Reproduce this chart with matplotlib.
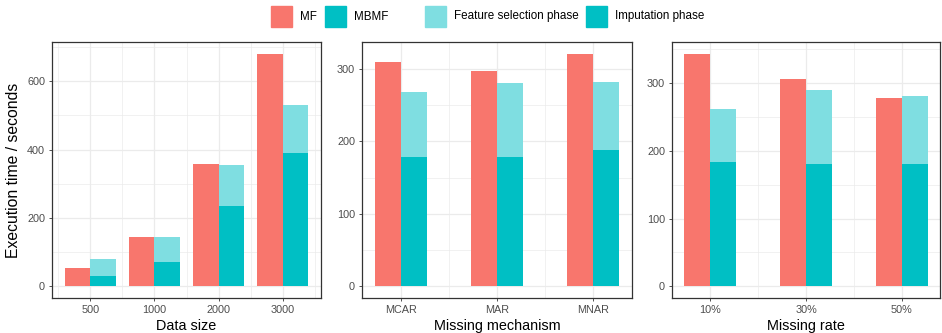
import matplotlib
matplotlib.use('Agg')
import matplotlib.pyplot as plt
from matplotlib.patches import Rectangle
import numpy as np

plt.rcParams['font.family'] = ['Liberation Sans', 'DejaVu Sans']

# Panel 1: data size
size_labels = ['500', '1000', '2000', '3000']
size_mf = [54, 145, 357, 681]
size_imput = [31, 72, 236, 389]
size_fs = [50, 73, 118, 143]

# Panel 2: missing mechanism
mech_labels = ['MCAR', 'MAR', 'MNAR']
mech_mf = [310, 297, 321]
mech_imput = [179, 179, 188]
mech_fs = [89, 102, 94]

# Panel 3: missing rate
rate_labels = ['10%', '30%', '50%']
rate_mf = [343, 305, 278]
rate_imput = [184, 180, 181]
rate_fs = [77, 110, 100]

MF_COLOR = '#F8766D'
TEAL = '#00BFC4'
LIGHT_TEAL = '#7FDEE1'
GRID = '#EBEBEB'
DARK = '#333333'


def draw_panel(ax, labels, mf, imput, fs, major, minor, xlabel, xpad, bw):
    n = len(labels)
    x = np.arange(1, n + 1)
    top = max(max(mf), max(a + b for a, b in zip(imput, fs)))

    ax.bar(x - bw / 2, mf, width=bw, color=MF_COLOR, zorder=3)
    ax.bar(x + bw / 2, imput, width=bw, color=TEAL, zorder=3)
    ax.bar(x + bw / 2, fs, width=bw, bottom=imput, color=LIGHT_TEAL, zorder=3)

    lo, hi = 1 - xpad, n + xpad
    ax.set_xticks(x)
    ax.set_xticklabels(labels)
    ax.set_yticks(major)
    mids = [m for m in np.arange(0.5, n + 1, 1.0) if lo < m < hi]
    ax.set_xticks(mids, minor=True)
    ax.set_yticks(minor, minor=True)
    # limits after ticks so set_ticks cannot widen the view
    ax.set_xlim(lo, hi)
    ax.set_ylim(-0.05 * top, 1.05 * top)

    ax.grid(which='major', color=GRID, linewidth=0.9, zorder=0)
    ax.grid(which='minor', color=GRID, linewidth=0.5, zorder=0)
    ax.set_axisbelow(True)

    ax.tick_params(which='major', length=2.5, width=0.6, color=DARK,
                   labelsize=7.8, labelcolor='#4D4D4D', pad=2.5)
    ax.tick_params(which='minor', length=0)
    for s in ax.spines.values():
        s.set_color(DARK)
        s.set_linewidth(0.9)
    ax.set_xlabel(xlabel, fontsize=10.4, labelpad=3)


fig = plt.figure(figsize=(9.42, 3.33), dpi=100)
W, H = 942.0, 333.0


def px_axes(l, t, r, b):
    return fig.add_axes([l / W, 1 - b / H, (r - l) / W, (b - t) / H])


ax1 = px_axes(52, 42, 321, 298)
ax2 = px_axes(362, 42, 632, 298)
ax3 = px_axes(672, 42, 940, 298)

draw_panel(ax1, size_labels, size_mf, size_imput, size_fs,
           [0, 200, 400, 600], [100, 300, 500, 700], 'Data size', 0.6, 0.4)
draw_panel(ax2, mech_labels, mech_mf, mech_imput, mech_fs,
           [0, 100, 200, 300], [50, 150, 250], 'Missing mechanism', 0.4, 0.27)
draw_panel(ax3, rate_labels, rate_mf, rate_imput, rate_fs,
           [0, 100, 200, 300], [50, 150, 250, 350], 'Missing rate', 0.4, 0.27)

ax1.set_ylabel('Execution time / seconds', fontsize=11.3, labelpad=4)

# Legend (two groups, drawn in figure pixel space)
legend_items = [('MF', MF_COLOR, 271), ('MBMF', TEAL, 325),
                ('Feature selection phase', LIGHT_TEAL, 425),
                ('Imputation phase', TEAL, 586)]
for text, color, x0 in legend_items:
    fig.add_artist(Rectangle((x0 / W, 1 - 27 / H), 21 / W, 21 / H,
                             transform=fig.transFigure, color=color))
    fig.text((x0 + 29) / W, 1 - 16.5 / H, text, fontsize=8.4,
             va='center', ha='left')

fig.savefig('out.png', dpi=100)
